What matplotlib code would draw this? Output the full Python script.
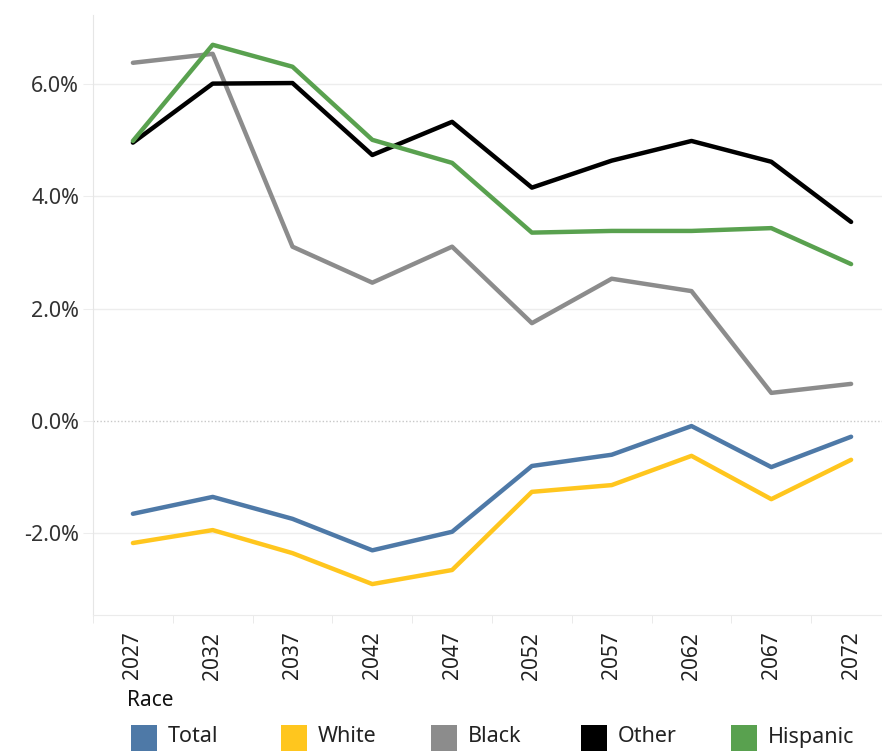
import matplotlib.pyplot as plt
from matplotlib.patches import Rectangle

plt.rcParams['font.family'] = ['Noto Sans', 'DejaVu Sans']

years = ['2027', '2032', '2037', '2042', '2047', '2052', '2057', '2062', '2067', '2072']
total = [-1.65, -1.35, -1.74, -2.30, -1.97, -0.80, -0.60, -0.09, -0.82, -0.28]
white = [-2.17, -1.94, -2.35, -2.90, -2.65, -1.26, -1.14, -0.62, -1.39, -0.69]
black = [6.37, 6.53, 3.10, 2.46, 3.10, 1.74, 2.53, 2.31, 0.50, 0.66]
other = [4.95, 6.00, 6.01, 4.73, 5.32, 4.15, 4.63, 4.98, 4.61, 3.54]
hispanic = [4.98, 6.69, 6.30, 5.00, 4.59, 3.35, 3.38, 3.38, 3.43, 2.79]

names = ['Total', 'White', 'Black', 'Other', 'Hispanic']
series = [total, white, black, other, hispanic]
colors = ['#4e79a7', '#ffc61e', '#8c8c8c', '#000000', '#59a14f']

fig = plt.figure(figsize=(8.82, 7.51), dpi=100)
ax = fig.add_axes([93 / 882, 1 - 615 / 751, 798 / 882, 600 / 751])

x = list(range(len(years)))
for vals, c in zip(series, colors):
    ax.plot(x, vals, color=c, lw=3.2, solid_joinstyle='round', solid_capstyle='round', zorder=3)

ax.set_xlim(-0.5, len(years) - 0.5)
ax.set_ylim(-3.45, 7.22)

# gridlines + dotted zero line
for v in [-2, 2, 4, 6]:
    ax.axhline(v, color='#ededed', lw=1, zorder=1)
ax.axhline(0, color='#c8c8c8', lw=1, ls=(0, (1, 1.5)), zorder=1)

ax.set_yticks([-2, 0, 2, 4, 6])
ax.set_yticklabels(['-2.0%', '0.0%', '2.0%', '4.0%', '6.0%'])
ax.tick_params(axis='y', length=7, color='#ededed', pad=3, labelsize=15.5, labelcolor='#333333')

ax.set_xticks(x)
ax.set_xticklabels(years, rotation=90)
ax.set_xticks([i - 0.5 for i in range(len(years) + 1)], minor=True)
ax.tick_params(axis='x', which='major', length=0, pad=12, labelsize=15, labelcolor='#222222')
ax.tick_params(axis='x', which='minor', length=6, color='#e6e6e6')

for s in ['top', 'right']:
    ax.spines[s].set_visible(False)
ax.spines['left'].set_color('#e6e6e6')
ax.spines['bottom'].set_color('#ebebeb')

# legend
fig.text(127 / 882, 1 - 700 / 751, 'Race', fontsize=15, fontweight='bold', color='#111111', va='center', ha='left')
for i, (n, c) in enumerate(zip(names, colors)):
    x0 = 131 + 150 * i
    fig.add_artist(Rectangle((x0 / 882, 1 - 751 / 751), 26 / 882, 26 / 751, transform=fig.transFigure,
                             facecolor=c, edgecolor='none'))
    fig.text((x0 + 37) / 882, 1 - 737 / 751, n, fontsize=15.5, color='#222222', va='center', ha='left')

fig.savefig('out.png', dpi=100)
